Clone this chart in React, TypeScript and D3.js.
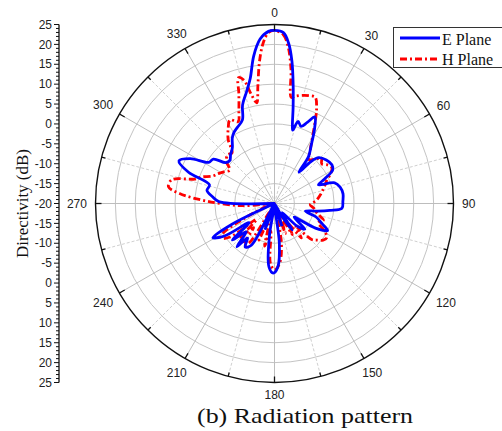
import React from "react";
import * as d3 from "d3";

const eAngle = [0,3,5,7,9,11,13,14,16,19,22,25,28,32,36,38,41,44,50,56,60,64,67,71,76,82,88,94,97,100,104,108,113,117,121,125,130,135,140,146,150,156,162,168,173,177,181,185,189,193,200,205,209,214,218,221,225,229,233,237,241,244,248,262,268,272,276,281,286,290,294,298,302,306,310,314,318,323,327,330,334,339,342,346,349,352,355,358];
const eDb = [23.5,23,20.5,16,10,4.5,0,-1,1.5,0.5,2,4,1.5,-2.5,-5.5,-10,-6,-4,-3,-2.6,-3.1,-6,-8,-4,-3,-2.6,-2.8,-3,-6,-9,-12,-9,-7,-5,-8,-14,-10,-12,-17,-12,-16,-20,-14,-20,-10,-4,-2.5,-4,-12,-20,-13,-20,-8,-6.8,-9,-5.6,-10,-6,-12,-5,-2.3,-8,-20,-20,-20,-6,-4.4,-2.7,-3,3,6.3,4,-0.5,-1,-4,-4.4,-3.5,-2.4,-0.5,0.5,1.3,2.5,6,9,12,17.5,21.5,23.3];

const hAngle = [0,3,5,7,9,11,14,18,21,24,26,30,34,38,42,46,50,54,58,62,66,70,75,80,86,92,97,103,109,114,118,123,127,131,134,138,142,146,150,155,160,165,170,175,180,184,188,193,198,203,208,213,217,221,225,229,233,237,240,244,250,258,266,272,276,279,283,287,290,294,298,302,307,311,316,320,324,328,332,336,339,342,344,346,348,350,352,354,356,358];
const hDb = [23.5,22.5,19.5,14,7,7.5,8,8.5,8.6,6,3.5,-1,-4,-6,-5,-3.6,-4.5,-3.5,-3,-4,-5.6,-6.5,-7.5,-8.4,-9.5,-11,-10,-9,-7,-8,-6,-4.3,-4.7,-6,-7,-12,-9,-14,-11,-16,-12,-18,-10,-5,-3.3,-5,-13,-9,-16,-10,-18,-8,-7,-12,-8,-14,-6,-4,-5,-12,-18,-20,-12,-3,4,7,6.5,1,-0.5,-3,-4,-5,-6,-4,-3,-3.4,-0.2,2,3.8,2.5,5,9,12.9,12,8,5.7,10,16,20.5,23];

const ringDb = [-15,-10,-5,0,5,10,15,20];
const angleLabels = [0,30,60,90,120,150,180,210,240,270,300,330];
const axisLabels = [25,20,15,10,5,0,-5,-10,-15,-20];
const seriesNames = ["E Plane","H Plane"];
const title = "(b) Radiation pattern";
const yTitle = "Directivity (dB)";

const CX = 274.5, CY = 203.5, R = 179;
const AX = 59;

export default function App() {
  const r = d3.scaleLinear().domain([-20, 25]).range([0, R]).clamp(true);
  const yUp = d3.scaleLinear().domain([-20, 25]).range([CY, CY - R]);
  const yDown = d3.scaleLinear().domain([-20, 25]).range([CY, CY + R]);
  const rad = (deg: number) => (deg * Math.PI) / 180;
  const line = d3
    .lineRadial<[number, number]>()
    .angle((d) => rad(d[0]))
    .radius((d) => r(d[1]))
    .curve(d3.curveCatmullRomClosed.alpha(0.5));
  const eData = eAngle.map((a, i) => [a, eDb[i]] as [number, number]);
  const hData = hAngle.map((a, i) => [a, hDb[i]] as [number, number]);
  const pt = (deg: number, rr: number) => [Math.sin(rad(deg)) * rr, -Math.cos(rad(deg)) * rr];
  const spokes = d3.range(0, 360, 15);
  const minorTicks = d3.range(-20, 25.01, 1);
  const numFont = "'Liberation Sans', Arial, sans-serif";
  const serif = "'Liberation Serif', 'Times New Roman', serif";

  return (
    <svg width={502} height={431} style={{ position: "absolute", left: 0, top: 0, background: "#fff" }}>
      <rect width={502} height={431} fill="#fff" />
      <g transform={`translate(${CX},${CY})`}>
        {ringDb.map((d) => (
          <circle key={d} r={r(d)} fill="none" stroke="#c4c4c4" strokeWidth={1} />
        ))}
        {spokes.map((a) => {
          const [x, y] = pt(a, R);
          const major = a % 30 === 0;
          return (
            <line key={a} x1={0} y1={0} x2={x} y2={y}
              stroke={major ? "#bdbdbd" : "#d0d0d0"} strokeWidth={1}
              strokeDasharray={major ? undefined : "3,2"} />
          );
        })}
        <path d={line(hData) || ""} fill="none" stroke="#ff0000" strokeWidth={2.8} strokeDasharray="7,3,2,3" />
        <path d={line(eData) || ""} fill="none" stroke="#0000ff" strokeWidth={2.8} />
        <circle r={R} fill="none" stroke="#111" strokeWidth={1.4} />
        {spokes.map((a) => {
          const len = a % 30 === 0 ? 6 : 4;
          const [x1, y1] = pt(a, R);
          const [x2, y2] = pt(a, R - len);
          return <line key={"t" + a} x1={x1} y1={y1} x2={x2} y2={y2} stroke="#111" strokeWidth={1.3} />;
        })}
        {angleLabels.map((a) => {
          const w = String(a).length * 6.7;
          const off = R + 8.5 + Math.abs(Math.sin(rad(a))) * w / 2 + Math.abs(Math.cos(rad(a))) * 3.5;
          const [x, y] = pt(a, off);
          return (
            <text key={"l" + a} x={x} y={y} dy="0.35em" textAnchor="middle"
              fontFamily={numFont} fontSize={12} fill="#222">{a}</text>
          );
        })}
      </g>
      {/* left radial axis */}
      <line x1={AX} y1={yUp(25)} x2={AX} y2={yDown(25)} stroke="#111" strokeWidth={1.3} />
      {minorTicks.map((v) => {
        const major = Math.abs(v % 5) < 1e-6;
        const len = major ? 5 : 3;
        return (
          <g key={"m" + v}>
            <line x1={AX - len} x2={AX} y1={yUp(v)} y2={yUp(v)} stroke="#111" strokeWidth={1} />
            <line x1={AX - len} x2={AX} y1={yDown(v)} y2={yDown(v)} stroke="#111" strokeWidth={1} />
          </g>
        );
      })}
      {axisLabels.map((v) => (
        <text key={"u" + v} x={AX - 7} y={yUp(v)} dy="0.35em" textAnchor="end"
          fontFamily={numFont} fontSize={12} fill="#222">{v}</text>
      ))}
      {axisLabels.filter((v) => v !== -20).map((v) => (
        <text key={"d" + v} x={AX - 7} y={yDown(v)} dy="0.35em" textAnchor="end"
          fontFamily={numFont} fontSize={12} fill="#222">{v}</text>
      ))}
      <text transform={`translate(22,${CY}) rotate(-90)`} textAnchor="middle" dy="0.35em"
        fontFamily={serif} fontSize={17} fill="#111">{yTitle}</text>
      {/* legend */}
      <rect x={393.5} y={27.5} width={110} height={40} fill="#fff" stroke="#333" strokeWidth={1} />
      <line x1={400} x2={440} y1={38} y2={38} stroke="#0000ff" strokeWidth={2.8} />
      <line x1={400} x2={440} y1={59} y2={59} stroke="#ff0000" strokeWidth={2.8} strokeDasharray="7,3,2,3" />
      <text x={442} y={45} fontFamily={serif} fontSize={16} fill="#111">{seriesNames[0]}</text>
      <text x={442} y={65} fontFamily={serif} fontSize={16} fill="#111">{seriesNames[1]}</text>
      <text x={197} y={423} textLength={216} lengthAdjust="spacingAndGlyphs"
        fontFamily={serif} fontSize={21} fill="#111">{title}</text>
    </svg>
  );
}
